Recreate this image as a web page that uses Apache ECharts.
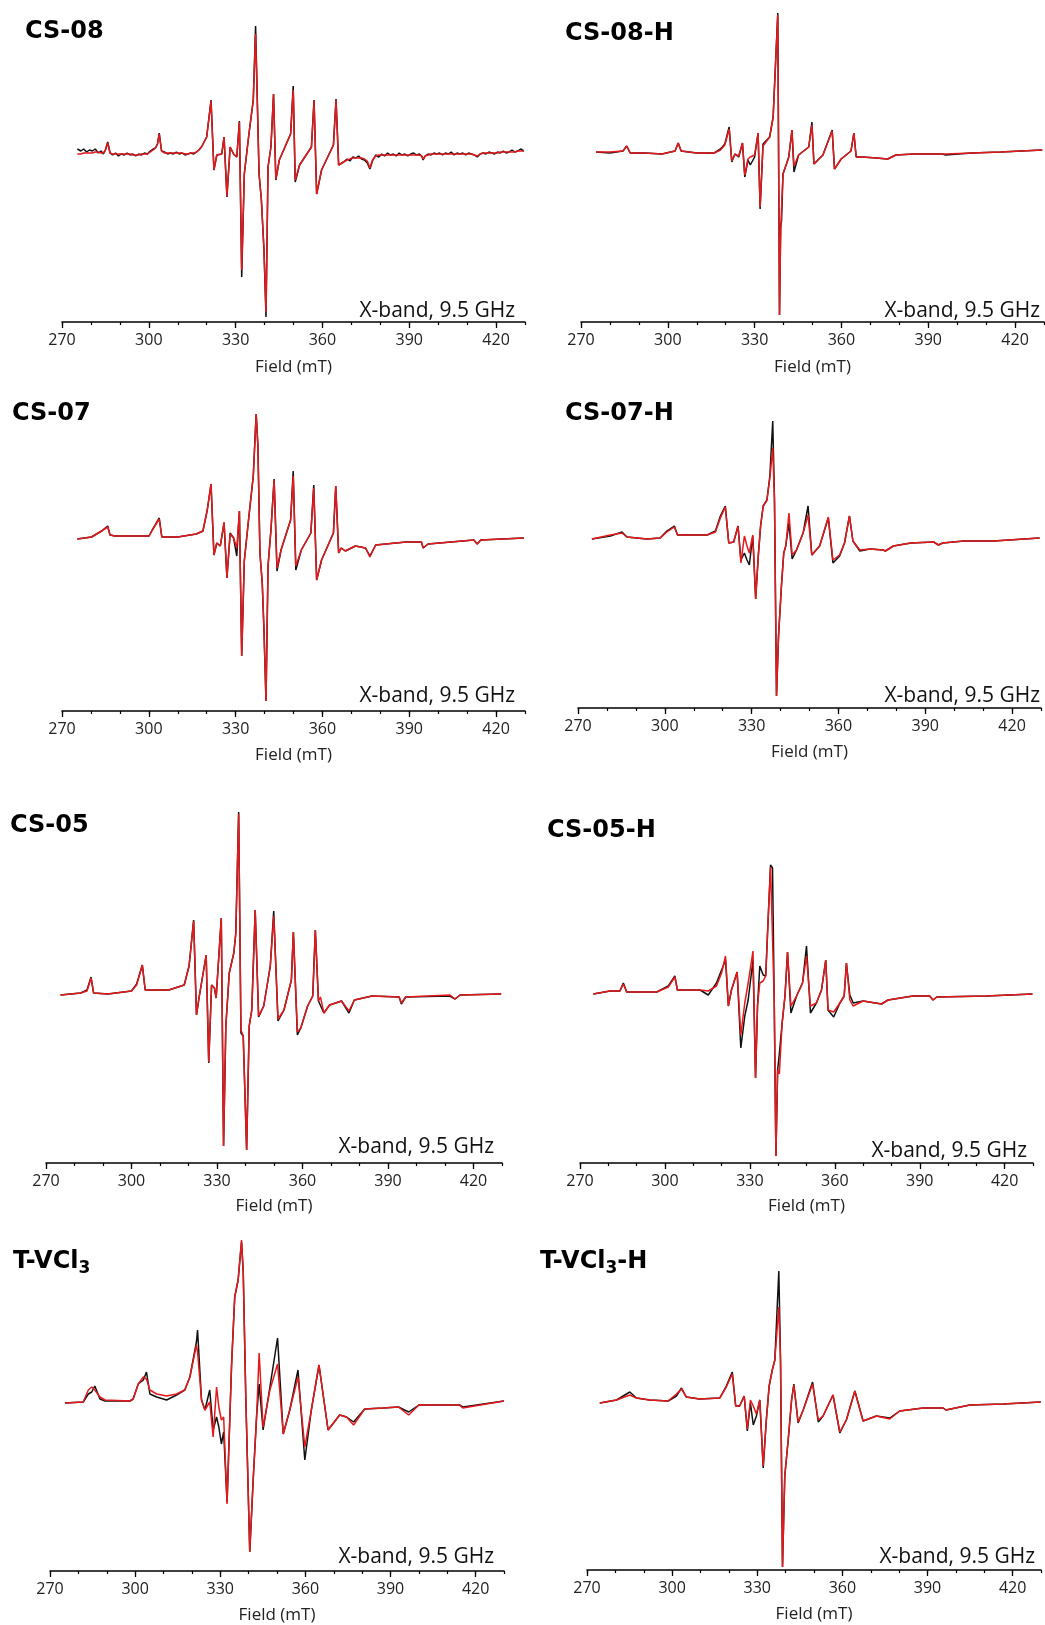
<!DOCTYPE html>
<html>
<head>
<meta charset="utf-8">
<title>EPR spectra</title>
<script src="https://cdn.jsdelivr.net/npm/echarts@6/dist/echarts.min.js"></script>
<style>
  html, body { margin: 0; padding: 0; background: #fff; }
  #epr { width: 1045px; height: 1625px; }
</style>
</head>
<body>
<div id="epr"></div>
<script>
// field in mT, signal in arbitrary units (0 = baseline). exp = black trace, sim = red trace
var fieldCS08 = [275.3,276.5,277.5,278.5,279.5,280.5,281.5,282.5,283.5,284.3,285.0,285.8,286.6,287.5,288.5,289.5,290.5,291.5,292.5,293.5,294.5,295.5,296.5,297.5,298.5,299.5,300.5,301.5,302.3,303.0,303.6,304.4,305.5,306.5,307.5,308.5,309.5,310.5,311.5,312.5,313.5,314.5,315.5,316.5,317.3,318.2,
    320.0,321.5,322.5,323.5,325.2,326.0,327.0,328.1,329.3,330.4,331.3,332.1,333.0,334.6,336.1,336.9,338.1,338.9,339.8,340.5,341.2,342.2,343.1,343.9,345.1,349.0,349.9,350.6,352.1,356.2,357.1,358.0,359.7,363.8,364.7,365.6,
    367.3,368.5,369.5,370.5,371.5,372.5,373.5,374.5,375.5,376.4,377.3,378.4,379.5,380.5,381.5,382.5,383.5,384.5,385.5,386.5,387.5,388.5,389.5,390.5,391.5,392.5,393.5,394.3,394.8,395.5,396.5,397.5,398.5,399.5,400.5,401.5,402.5,403.5,404.5,405.5,406.5,407.5,408.5,409.5,410.5,411.5,412.5,413.5,414.5,415.5,416.5,417.5,418.5,419.5,420.5,421.5,422.5,423.5,424.5,425.5,426.5,427.5,428.5,429.6];
var expCS08 = [3,1,3,0,2,1,3,-1,1,-2,2,10,-1,-3,-1,-4,-2,-3,-1,-3,-2,-4,-2,-3,-1,-2,1,3,4,8,19,1,0,-2,-1,-2,0,-2,-1,-3,-2,-1,-2,0,2,5,
    15,52,-18,-3,-2,15,-45,5,-2,-5,31,-125,-22,18,52,126,-22,-48,-98,-165,-15,5,58,-28,-8,18,66,-30,-13,5,52,-42,-18,7,53,-13,
    -10,-7,-9,-5,-6,-4,-7,-8,-11,-17,-9,-3,-5,-2,-4,-1,-3,-2,-4,-1,-3,-2,-4,-2,-1,-3,-2,-4,-8,-4,-2,-3,-1,-2,-1,-3,-1,-2,0,-3,-1,-2,-1,-3,-1,-2,-3,-5,-2,-1,-2,0,-1,-2,0,-1,1,-1,0,2,0,1,3,1];
var simCS08 = [-2,-2,-1,-1,-1,-1,0,0,-1,-1,2,9,-1,-2,-2,-2,-2,-2,-2,-2,-3,-3,-3,-2,-2,-2,0,2,4,8,18,1,-1,-1,-1,-1,-1,-1,-1,-2,-2,-1,-1,0,2,5,
    15,51,-18,-3,-2,15,-44,5,-2,-5,30,-118,-22,18,52,118,-22,-48,-98,-160,-15,5,58,-27,-8,18,62,-28,-13,5,51,-42,-18,7,52,-13,
    -10,-8,-7,-6,-6,-6,-6,-7,-9,-16,-8,-4,-3,-3,-3,-3,-3,-3,-3,-3,-3,-3,-3,-3,-3,-3,-3,-4,-7,-4,-3,-2,-2,-2,-2,-2,-2,-2,-2,-2,-2,-2,-2,-2,-2,-2,-3,-4,-2,-1,-1,-1,-1,-1,-1,0,0,0,0,0,0,1,1,1];

var fieldCS08H = [275.2,280,284.5,285.8,287,292,298,302.5,303.6,304.6,310,316,318.2,319.7,321.2,322.1,323.2,324.5,325.8,326.6,327.7,328.5,330.0,331.2,331.9,332.9,335.2,336.4,338.0,338.6,339.0,339.3,339.8,341.0,341.8,342.9,343.6,345.2,348.7,349.8,350.5,353.6,356.8,357.6,359.9,363.3,364.3,365.1,367.3,372,376.0,378.8,385,394.9,396,405,415,429.4];
var expCS08H = [-1,-2,0,5,-2,-2,-3,0,8,0,-2,-2,2,7,24,-11,-3,-6,8,-26,-9,-14,-6,18,-58,7,14,34,138,-164,-75,-70,-23,-13,-6,21,-21,-4,4,29,-13,-4,21,-18,-8,0,18,-6,-6,-7,-8,-4,-3,-3,-4,-2,-1,1];
var simCS08H = [-1,-1,0,5,-2,-2,-3,0,8,0,-2,-2,1,6,22,-10,-3,-5,8,-24,-8,-6,-4,18,-56,5,14,34,136,-164,-80,-78,-23,-13,-6,21,-15,-4,4,26,-13,-4,20,-18,-8,0,18,-6,-6,-7,-8,-4,-3,-3,-3,-2,-1,1];

var fieldCS07 = [275.3,280.2,283.7,285.8,286.6,288.3,295,300.1,301.2,303.6,304.5,310,316.4,318.7,320.2,321.5,322.5,323.5,324.7,326.0,327.0,328.1,329.3,330.4,331.3,332.1,333.0,334.6,336.1,337.1,337.7,338.4,339.2,339.8,340.5,341.2,342.2,343.3,344.3,345.7,349.0,349.9,350.8,352.7,356.0,357.0,358.0,359.7,363.8,364.6,365.6,366.5,367.9,371.4,374.9,376.4,378.4,388.9,394.2,394.8,396.5,412.3,413.5,414.7,429.6];
var expCS07 = [-1,1,7,12,3,2,2,2,8,20,1,1,4,7,28,54,-17,-5,-8,15,-40,5,0,-18,27,-118,-23,22,62,124,92,-15,-45,-92,-163,-28,8,59,-33,-12,18,67,-32,-12,5,53,-42,-22,5,52,-15,-10,-13,-8,-10,-18,-7,-4,-4,-10,-6,-2,-6,-2,0];
var simCS07 = [-1,1,7,11,3,2,2,2,8,19,1,1,4,7,28,54,-17,-5,-8,16,-40,4,0,-10,27,-118,-23,22,62,124,92,-15,-45,-92,-163,-28,8,58,-30,-12,18,62,-28,-12,5,50,-42,-22,5,52,-15,-10,-13,-8,-10,-19,-7,-4,-4,-10,-6,-2,-6,-2,0];

var fieldCS07H = [274.8,281.2,285.2,286.9,293.8,298.4,300.7,303.3,304.4,314.6,317.5,319.2,320.9,322.1,323.8,325.3,326.3,327.5,328.4,329.2,330.4,331.4,332.3,333.1,334.0,335.3,336.3,337.3,337.9,338.6,339.3,340.3,341.1,341.8,342.9,344.0,345.5,347.8,349.5,350.8,353.5,356.5,358.1,360.4,362.1,363.8,365.0,367.4,370.9,375.5,376.2,379.0,385.0,392.9,394.6,396.0,403.3,413.6,414.2,429.5];
var expCS07H = [-1,2,6,1,-1,0,7,12,3,3,7,22,32,-5,-4,12,-22,-15,-22,-27,2,-61,-18,12,32,38,62,117,38,-158,-98,-48,-15,-8,15,-21,-12,5,32,-17,-8,20,-25,-18,-5,22,-3,-13,-11,-12,-13,-8,-5,-4,-7,-5,-3,-3,-5,0];
var simCS07H = [-1,3,5,1,-1,0,6,11,3,3,6,20,31,-5,-4,12,-25,2,-8,-15,3,-61,-18,12,32,38,60,90,38,-158,-98,-48,-15,-8,25,-17,-12,5,23,-17,-8,21,-22,-17,-5,22,-3,-12,-11,-12,-13,-8,-5,-4,-7,-5,-3,-3,-5,0];

var fieldCS05 = [275.1,282.2,284.4,285.8,286.7,291.7,300.0,301.8,303.8,304.8,313.1,318.5,320.2,321.8,322.8,323.8,326.2,327.1,328.1,329.1,329.7,331.5,332.3,333.1,334.3,335.9,336.6,337.6,338.4,339.2,340.4,341.3,342.2,343.4,344.6,346.4,348.7,349.9,351.4,353.5,356.1,356.8,358.2,359.4,361.8,363.6,364.5,365.6,366.3,367.5,369.5,373.7,376.3,378.2,384.4,393.9,394.7,396.2,411.7,413.5,415.3,429.7];
var expCS05 = [-1,1,4,17,1,0,3,10,29,4,4,9,28,74,-21,-2,39,-69,9,6,-4,76,-152,-32,21,41,61,182,-39,-42,-156,-32,-16,84,-23,-12,28,83,-27,-16,14,62,-41,-34,-12,-2,64,-7,-5,-19,-11,-7,-19,-6,-2,-3,-10,-3,-2,-5,-1,0];
var simCS05 = [-1,1,3,16,1,0,3,9,29,4,4,9,28,73,-21,-2,39,-68,9,6,-4,76,-152,-32,21,41,61,180,-36,-42,-156,-32,-16,84,-22,-12,28,78,-25,-16,14,62,-38,-34,-12,-2,64,-7,-3,-19,-11,-7,-17,-6,-2,-3,-9,-3,-1,-5,-1,0];

var fieldCS05H = [274.7,280.6,284.1,285.3,286.5,297.1,301.2,303.5,304.4,312.4,315.3,318.2,320.0,321.4,322.4,323.5,325.5,326.8,328.2,329.4,331.1,332.0,332.7,333.5,334.7,335.6,336.5,337.3,338.0,338.6,339.2,339.8,340.4,341.4,342.4,343.3,344.5,346.5,348.6,350.0,351.4,353.5,355.3,356.8,357.6,359.6,361.8,363.3,364.1,365.3,366.5,370.0,376.5,378.8,387.6,393.5,394.7,396.0,413.5,429.8];
var expCS05H = [0,3,3,11,2,2,8,18,4,4,-1,11,24,34,-12,4,22,-54,-22,-6,34,-84,-12,28,19,18,78,129,126,-6,-162,-76,-60,-29,-2,42,-19,-2,11,48,-19,-9,4,34,-16,-23,-9,-2,31,-1,-9,-7,-10,-6,-2,-2,-6,-3,-2,0];
var simCS05H = [0,3,3,10,2,2,7,17,4,4,3,8,21,38,-12,4,22,-41,-9,11,43,-84,-12,11,13,18,78,127,126,-6,-162,-76,-80,-29,-2,42,-12,-2,11,38,-12,-9,4,34,-16,-18,-9,-2,31,-6,-12,-7,-10,-6,-2,-2,-6,-3,-2,0];

var fieldTVCl3 = [275.3,281.7,283.5,284.7,285.8,287.6,289.4,298.2,299.3,301.1,302.9,304.0,305.2,307.6,311.1,314.6,317.5,319.3,321.6,322.0,323.4,324.6,326.3,327.5,328.7,329.5,330.4,331.2,332.4,334.0,335.1,336.3,337.5,338.1,339.0,340.4,341.6,342.8,343.7,345.1,347.5,350.2,352.2,354.5,357.4,359.8,362.1,364.8,368.0,372.1,374.5,377.0,380.9,387.4,392.8,396.4,400.0,414.3,415.5,430.0];
var expTVCl3 = [-1,0,8,10,16,3,1,1,3,18,22,30,8,5,2,7,12,25,60,72,2,-8,12,-28,-15,-25,-42,-30,-100,38,105,122,160,130,5,-150,-78,-15,18,-28,15,64,-32,-8,32,-58,-8,37,-28,-13,-15,-20,-7,-6,-5,-10,-3,-3,-5,1];
var simTVCl3 = [-1,0,12,15,12,5,2,1,3,18,25,23,12,8,6,8,12,25,57,50,2,-8,0,-35,15,-5,-18,-15,-102,38,105,122,162,130,5,-150,-78,-15,49,-25,12,38,-32,-8,25,-45,-8,37,-28,-13,-15,-23,-7,-6,-5,-13,-3,-3,-6,1];

var fieldTVCl3H = [274.5,280.4,285.1,287.4,292.1,298.6,301.5,303.3,305.0,309.7,316.8,319.1,321.2,322.4,323.8,325.4,326.5,327.6,328.6,329.7,330.9,332.1,333.2,334.2,335.3,336.2,337.6,338.2,338.9,339.7,340.9,342.1,342.9,344.4,346.2,349.5,351.5,353.2,356.7,359.1,361.4,364.4,367.3,372.0,376.7,380.2,388.5,395.5,396.5,404.9,416.7,429.9];
var expTVCl3H = [-1,2,10,4,2,1,6,14,5,3,4,16,30,-4,-4,6,-29,-1,-23,-14,2,-66,-18,16,32,42,131,42,-165,-74,-38,2,18,-21,-8,20,-20,-14,7,-31,-18,11,-19,-14,-16,-9,-6,-6,-8,-3,-2,0];
var simTVCl3H = [-1,2,7,4,2,1,8,13,5,3,4,15,28,-4,-4,6,-27,2,-4,-12,2,-64,-18,16,32,42,95,42,-165,-74,-38,2,17,-20,-8,18,-18,-14,7,-30,-18,11,-19,-14,-17,-9,-6,-6,-8,-3,-2,0];

var sampleNames = ['CS-08', 'CS-08-H', 'CS-07', 'CS-07-H', 'CS-05', 'CS-05-H', 'T-VCl3', 'T-VCl3-H'];
var bandLabel = 'X-band, 9.5 GHz';
var axisTitle = 'Field (mT)';

var panels = [
    { field: fieldCS08,   exp: expCS08,   sim: simCS08 },
    { field: fieldCS08H,  exp: expCS08H,  sim: simCS08H },
    { field: fieldCS07,   exp: expCS07,   sim: simCS07 },
    { field: fieldCS07H,  exp: expCS07H,  sim: simCS07H },
    { field: fieldCS05,   exp: expCS05,   sim: simCS05 },
    { field: fieldCS05H,  exp: expCS05H,  sim: simCS05H },
    { field: fieldTVCl3,  exp: expTVCl3,  sim: simTVCl3 },
    { field: fieldTVCl3H, exp: expTVCl3H, sim: simTVCl3H }
];

// where each panel sits on the page (pixels)
var layout = [
    { left: 62,  top: 12,   width: 463, height: 310, ymin: -170, ymax: 140, tx: 25,  ty: 20,   bx: 515,  by: 322,  gap: 37 },
    { left: 581, top: 6,    width: 463, height: 316, ymin: -171, ymax: 145, tx: 565, ty: 22,   bx: 1040, by: 322,  gap: 37 },
    { left: 62,  top: 398,  width: 463, height: 313, ymin: -173, ymax: 140, tx: 12,  ty: 402,  bx: 515,  by: 707,  gap: 36 },
    { left: 578, top: 398,  width: 463, height: 310, ymin: -170, ymax: 140, tx: 565, ty: 402,  bx: 1040, by: 707,  gap: 36 },
    { left: 46,  top: 804,  width: 456, height: 359, ymin: -169, ymax: 190, tx: 10,  ty: 814,  bx: 494,  by: 1158, gap: 35 },
    { left: 580, top: 854,  width: 453, height: 309, ymin: -169, ymax: 140, tx: 547, ty: 819,  bx: 1027, by: 1162, gap: 35 },
    { left: 50,  top: 1227, width: 454, height: 344, ymin: -169, ymax: 175, tx: 13,  ty: 1250, bx: 494,  by: 1568, gap: 36 },
    { left: 587, top: 1262, width: 454, height: 308, ymin: -168, ymax: 140, tx: 540, ty: 1250, bx: 1035, by: 1568, gap: 36 }
];

function toPairs(xs, ys) {
    if (xs.length !== ys.length) console.log('length mismatch', xs.length, ys.length);
    return xs.map(function (x, i) { return [x, ys[i]]; });
}

// "T-VCl3" -> rich text with a subscript 3
function richName(name) {
    var parts = name.split('Cl3');
    if (parts.length === 1) return '{b|' + name + '}';
    var txt = '{b|' + parts[0] + 'Cl}{s|3}';
    if (parts[1]) txt += '{b|' + parts[1] + '}';
    return txt;
}

var titleRich = {
    b: { fontSize: 24, fontWeight: 'bold', fontFamily: 'DejaVu Sans', fill: '#000', verticalAlign: 'top' },
    s: { fontSize: 17, fontWeight: 'bold', fontFamily: 'DejaVu Sans', fill: '#000', verticalAlign: 'top', padding: [10, 0, 0, 0] }
};

function LoadSpectra() {
    var chart = echarts.init(document.getElementById('epr'));
    var grid = [], xAxis = [], yAxis = [], series = [], graphic = [];

    panels.forEach(function (p, i) {
        var L = layout[i];
        grid.push({ left: L.left, top: L.top, width: L.width, height: L.height });
        // major ticks + labels
        xAxis.push({
            gridIndex: i, type: 'value', position: 'bottom',
            min: 270, max: 430, interval: 30,
            axisLine: { onZero: false, lineStyle: { color: '#000', width: 1.5 } },
            axisTick: { length: 6, lineStyle: { color: '#000', width: 1.3 } },
            axisLabel: { margin: 10, color: '#222', fontSize: 16, fontFamily: 'Open Sans', showMaxLabel: false },
            splitLine: { show: false },
            name: axisTitle, nameLocation: 'middle', nameGap: L.gap,
            nameTextStyle: { color: '#222', fontSize: 17, fontFamily: 'Open Sans' }
        });
        // minor ticks every 10 mT
        xAxis.push({
            gridIndex: i, type: 'value', position: 'bottom',
            min: 270, max: 430, interval: 10,
            axisLine: { show: false, onZero: false },
            axisTick: { length: 3, lineStyle: { color: '#000', width: 1.2 } },
            axisLabel: { show: false },
            splitLine: { show: false }
        });
        yAxis.push({ gridIndex: i, type: 'value', min: L.ymin, max: L.ymax, show: false });

        series.push({
            type: 'line', xAxisIndex: 2 * i, yAxisIndex: i,
            data: toPairs(p.field, p.exp), symbol: 'none',
            lineStyle: { color: '#111', width: 1.5 }, z: 2
        });
        series.push({
            type: 'line', xAxisIndex: 2 * i, yAxisIndex: i,
            data: toPairs(p.field, p.sim), symbol: 'none',
            lineStyle: { color: '#e3191c', width: 1.5 }, z: 3
        });

        graphic.push({
            type: 'text', x: L.tx, y: L.ty,
            style: { text: richName(sampleNames[i]), rich: titleRich, verticalAlign: 'top' }
        });
        graphic.push({
            type: 'text', x: L.bx, y: L.by,
            style: { text: bandLabel, fontSize: 21, fontFamily: 'Open Sans', fill: '#111', align: 'right', verticalAlign: 'bottom' }
        });
    });

    var option = {
        animation: false,
        backgroundColor: '#fff',
        grid: grid,
        xAxis: xAxis,
        yAxis: yAxis,
        series: series,
        graphic: graphic
    };
    chart.setOption(option);
    window.addEventListener('resize', function () {
        chart.resize();
    });
}

LoadSpectra();
</script>
</body>
</html>
